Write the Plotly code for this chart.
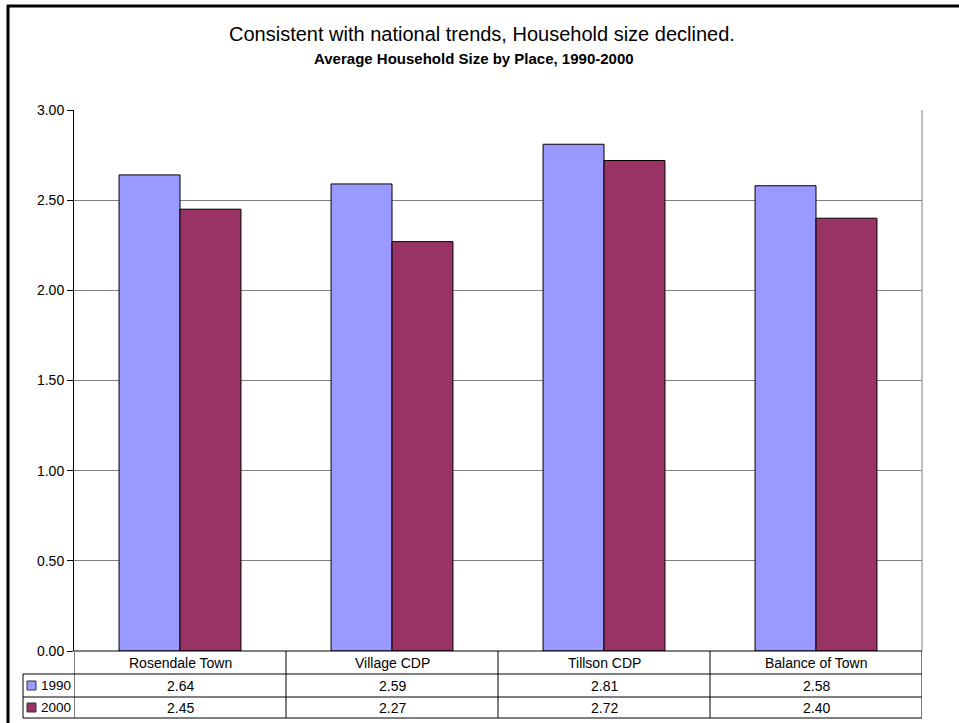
import plotly.graph_objects as go

categories = ["Rosendale Town", "Village CDP", "Tillson CDP", "Balance of Town"]
series_names = ["1990", "2000"]
values_1990 = [2.64, 2.59, 2.81, 2.58]
values_2000 = [2.45, 2.27, 2.72, 2.40]
y_ticks = [0, 0.5, 1.0, 1.5, 2.0, 2.5, 3.0]
title_text = "Consistent with national trends, Household size declined."
subtitle_text = "Average Household Size by Place, 1990-2000"

colors = ["#9999FF", "#993366"]
FONT = "Liberation Sans, Arial, sans-serif"

W, H = 959, 723
L, R, T, B = 74, 922, 110, 651  # plot area pixels

def px_x(p):
    return (p - L) / (R - L)

def px_y(p):
    return (B - p) / (B - T)

fig = go.Figure()
for name, vals, col in zip(series_names, [values_1990, values_2000], colors):
    fig.add_trace(go.Bar(
        x=list(range(len(categories))), y=vals, name=name,
        marker=dict(color=col, line=dict(color="#000000", width=1)),
        showlegend=False, hoverinfo="skip",
    ))

shapes = []
annotations = []

# outer chart border (top and left visible)
shapes.append(dict(type="line", xref="paper", yref="paper", x0=px_x(7), x1=px_x(W + 10),
                   y0=px_y(6), y1=px_y(6), line=dict(color="black", width=3)))
shapes.append(dict(type="line", xref="paper", yref="paper", x0=px_x(8), x1=px_x(8),
                   y0=px_y(5), y1=px_y(H + 10), line=dict(color="black", width=3)))

# right border of plot area
shapes.append(dict(type="line", xref="paper", yref="paper", x0=1, x1=1, y0=0, y1=1,
                   line=dict(color="#808080", width=1)))

# data table
row_h = 23
rows_y = [B, B + row_h, B + 2 * row_h, B + 3 * row_h - 2]
leg_left = 23
line_style = dict(color="black", width=1)
shapes.append(dict(type="line", xref="paper", yref="paper", x0=0, x1=1,
                   y0=px_y(rows_y[0]), y1=px_y(rows_y[0]), line=line_style))
for ry in rows_y[1:]:
    shapes.append(dict(type="line", xref="paper", yref="paper", x0=px_x(leg_left), x1=1,
                       y0=px_y(ry), y1=px_y(ry), line=line_style))
shapes.append(dict(type="line", xref="paper", yref="paper", x0=px_x(leg_left), x1=px_x(leg_left),
                   y0=px_y(rows_y[1]), y1=px_y(rows_y[3]), line=line_style))
for i in range(len(categories) + 1):
    shapes.append(dict(type="line", xref="x", yref="paper", x0=i - 0.5, x1=i - 0.5,
                       y0=px_y(rows_y[0]), y1=px_y(rows_y[3]), line=line_style))

cell_font = dict(family=FONT, size=14, color="black")
for i, cat in enumerate(categories):
    annotations.append(dict(x=i, y=px_y((rows_y[0] + rows_y[1]) / 2), xref="x", yref="paper",
                            text=cat, showarrow=False, font=cell_font,
                            xanchor="center", yanchor="middle"))
    for r, vals in enumerate([values_1990, values_2000]):
        annotations.append(dict(x=i, y=px_y((rows_y[r + 1] + rows_y[r + 2]) / 2), xref="x",
                                yref="paper", text=f"{vals[i]:.2f}", showarrow=False,
                                font=cell_font, xanchor="center", yanchor="middle"))

for r, (name, col) in enumerate(zip(series_names, colors)):
    cy = (rows_y[r + 1] + rows_y[r + 2]) / 2
    shapes.append(dict(type="rect", xref="paper", yref="paper",
                       x0=px_x(27), x1=px_x(36), y0=px_y(cy - 4.5), y1=px_y(cy + 4.5),
                       fillcolor=col, line=dict(color="#333333", width=1)))
    annotations.append(dict(x=px_x(39), y=px_y(cy), xref="paper", yref="paper", text=name,
                            showarrow=False, xanchor="left", yanchor="middle",
                            font=dict(family=FONT, size=13.5, color="black")))

# titles
annotations.append(dict(x=px_x(482), y=px_y(34), xref="paper", yref="paper", text=title_text,
                        showarrow=False, xanchor="center", yanchor="middle",
                        font=dict(family=FONT, size=20, color="black")))
annotations.append(dict(x=px_x(474), y=px_y(59), xref="paper", yref="paper",
                        text="<b>" + subtitle_text + "</b>", showarrow=False,
                        xanchor="center", yanchor="middle",
                        font=dict(family=FONT, size=15, color="black")))

fig.update_layout(
    width=W, height=H, autosize=False,
    margin=dict(l=L, r=W - R, t=T, b=H - B, pad=0),
    paper_bgcolor="white", plot_bgcolor="white",
    barmode="group", bargap=0.425, bargroupgap=0,
    shapes=shapes, annotations=annotations,
    xaxis=dict(range=[-0.5, len(categories) - 0.5], showticklabels=False, ticks="",
               showgrid=False, zeroline=False, showline=False, fixedrange=True),
    yaxis=dict(range=[0, 3], tickvals=y_ticks, tickformat=".2f", ticks="outside",
               ticklen=6, tickcolor="black", showline=True, linecolor="black", linewidth=1,
               showgrid=True, gridcolor="#808080", gridwidth=1, zeroline=False,
               tickfont=dict(family=FONT, size=14, color="black"), fixedrange=True),
    font=dict(family=FONT),
)

fig.write_html("out.html", config={"displayModeBar": False},
               post_script="document.body.style.margin='0';document.body.style.overflow='hidden';")
